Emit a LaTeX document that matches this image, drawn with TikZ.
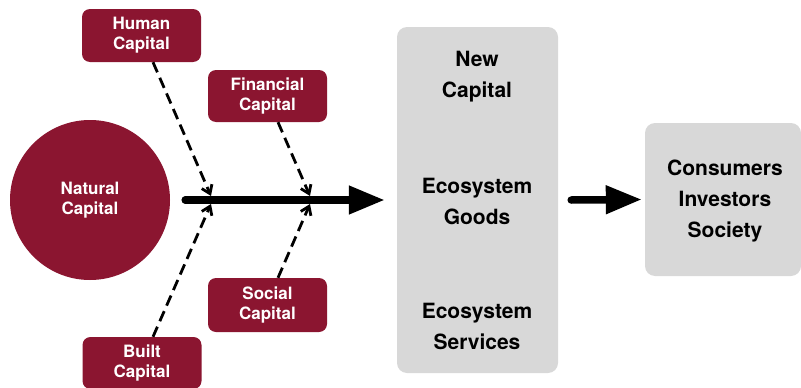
\documentclass[tikz,border=0pt]{standalone}
\usepackage{fontspec}
\setmainfont{TeX Gyre Heros}
\usetikzlibrary{arrows.meta}
\definecolor{wine}{RGB}{139,21,48}
\definecolor{panel}{RGB}{216,216,216}
\begin{document}
\begin{tikzpicture}[x=1pt,y=-1pt,
 redbox/.style={fill=wine, rounded corners=8pt, text=white, font=\bfseries\fontsize{17}{20}\selectfont, align=center, minimum width=119pt, minimum height=53pt, inner sep=0pt},
 graybox/.style={fill=panel, rounded corners=10pt, inner sep=0pt},
 graytext/.style={font=\bfseries\fontsize{21}{31}\selectfont, align=center, text=black, inner sep=0pt},
 flow/.style={line width=7.5pt, line cap=round, -{Triangle[length=36pt,width=27pt]}},
 feed/.style={line width=2.8pt, dash pattern=on 11pt off 6pt, -{Straight Barb[length=8pt,width=11pt]}}]
\useasboundingbox (0,0) rectangle (801,388);
% capitals
\node[circle, fill=wine, minimum size=160pt, inner sep=0pt, text=white, align=center, font=\bfseries\fontsize{17}{20}\selectfont] (natural) at (90,200) {Natural\\Capital};
\node[redbox] (human) at (141.5,35.5) {Human\\Capital};
\node[redbox, minimum height=52pt] (financial) at (267.5,96) {Financial\\Capital};
\node[redbox, minimum height=54pt] (social) at (267.5,305) {Social\\Capital};
\node[redbox, minimum height=52pt] (built) at (142,363) {Built\\Capital};
% panels
\node[graybox, minimum width=161pt, minimum height=346pt] (big) at (477.5,200) {};
\node[graytext] (newcap) at (477,76.5) {New\\Capital};
\node[graytext] (goods) at (477,201.5) {Ecosystem\\Goods};
\node[graytext] (services) at (477,326.5) {Ecosystem\\Services};
\node[graybox, minimum width=156pt, minimum height=153pt] (right) at (723,199.5) {};
\node[graytext] (people) at (725,201) {Consumers\\Investors\\Society};
% junctions on the main flow
\coordinate (jh) at (211,196);
\coordinate (jf) at (310,196);
\coordinate (jb) at (211,204);
\coordinate (js) at (310,204);
% arrows
\draw[flow] ([xshift=15pt]natural.east) -- ([xshift=-12pt]big.west);
\draw[flow] ([xshift=13pt]big.east) -- ([xshift=-3pt]right.west);
\draw[feed] ([xshift=11.5pt]human.south) -- (jh);
\draw[feed] ([xshift=10.5pt]financial.south) -- (jf);
\draw[feed] ([xshift=11pt]built.north) -- (jb);
\draw[feed] ([xshift=10.5pt]social.north) -- (js);
\end{tikzpicture}
\end{document}
